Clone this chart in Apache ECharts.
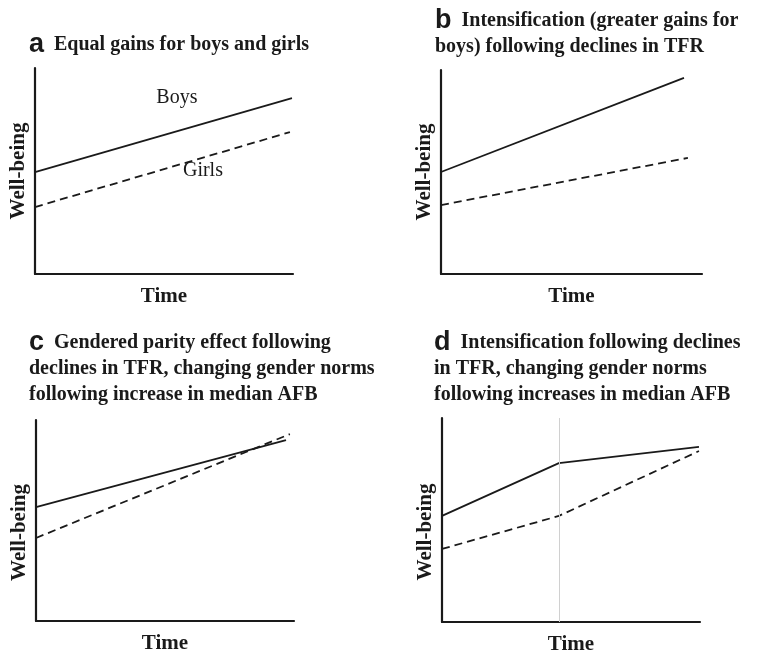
<!DOCTYPE html>
<html>
<head>
<meta charset="UTF-8">
<title>Well-being over time</title>
<script src="https://cdn.jsdelivr.net/npm/echarts@6/dist/echarts.min.js"></script>
<style>
  html, body, #chart { margin: 0; padding: 0; width: 766px; height: 651px; background: #fff; }
</style>
</head>
<body>
<div id="chart"></div>
<script>
// panel a: equal gains
const timeBoysA = [0, 9.96];
const boysA = [4.95, 8.54];
const timeGirlsA = [0, 9.88];
const girlsA = [3.25, 6.89];

// panel b: intensification
const timeBoysB = [0, 9.31];
const boysB = [5.0, 9.61];
const timeGirlsB = [0, 9.46];
const girlsB = [3.38, 5.69];

// panel c: gendered parity effect
const timeBoysC = [0, 9.69];
const boysC = [5.67, 9.0];
const timeGirlsC = [0, 9.84];
const girlsC = [4.13, 9.3];

// panel d: intensification then changing norms
const timeD = [0, 4.53, 9.96];
const boysD = [5.2, 7.79, 8.58];
const girlsD = [3.58, 5.2, 8.38];
const breakD = 4.53;

const titles = [
  '{l|a}{t|Equal gains for boys and girls}',
  '{l|b}{t|Intensification (greater gains for}\n{t|boys) following declines in TFR}',
  '{l|c}{t|Gendered parity effect following}\n{t|declines in TFR, changing gender norms}\n{t|following increase in median AFB}',
  '{l|d}{t|Intensification following declines}\n{t|in TFR, changing gender norms}\n{t|following increases in median AFB}'
];

function pairs(xs, ys) {
  return xs.map(function (x, i) { return [x, ys[i]]; });
}

var chart = echarts.init(document.getElementById('chart'));
var serif = '"Liberation Serif", "DejaVu Serif", serif';
var ink = '#1a1a1a';

var grids = [
  { left: 35, top: 68, width: 258, height: 206 },
  { left: 441, top: 70, width: 261, height: 204 },
  { left: 36, top: 420, width: 258, height: 201 },
  { left: 442, top: 418, width: 258, height: 204 }
];
grids.forEach(function (g) { g.containLabel = false; g.outerBoundsMode = 'none'; });

var titlePos = [
  { left: 29, top: 32 },
  { left: 435, top: 8 },
  { left: 29, top: 330 },
  { left: 434, top: 330 }
];

var axisLine = { show: true, symbol: 'none', lineStyle: { color: ink, width: 2.2 } };
var xAxes = [], yAxes = [];
for (let i = 0; i < 4; i++) {
  xAxes.push({
    type: 'value', gridIndex: i, min: 0, max: 10,
    axisLine: axisLine, axisTick: { show: false }, axisLabel: { show: false },
    splitLine: { show: false },
    name: 'Time', nameLocation: 'middle', nameGap: 12,
    nameTextStyle: { fontFamily: serif, fontWeight: 'bold', fontSize: 21, color: ink }
  });
  yAxes.push({
    type: 'value', gridIndex: i, min: 0, max: 10,
    axisLine: axisLine, axisTick: { show: false }, axisLabel: { show: false },
    splitLine: { show: false },
    name: 'Well-being', nameLocation: 'middle', nameGap: 6,
    nameTextStyle: {
      fontFamily: serif, fontWeight: 'bold', fontSize: 21, color: ink,
      padding: i >= 2 ? [0, 24, 0, 0] : [0, 0, 0, 0]
    }
  });
}

function lineSeries(idx, data, dashed, extra) {
  var s = {
    type: 'line', xAxisIndex: idx, yAxisIndex: idx, data: data,
    symbol: 'none', silent: true, animation: false,
    lineStyle: { color: ink, width: 1.8, type: dashed ? [8, 5] : 'solid' }
  };
  return Object.assign(s, extra || {});
}

var option = {
  backgroundColor: '#fff',
  animation: false,
  title: titles.map(function (t, i) {
    return {
      text: t, left: titlePos[i].left, top: titlePos[i].top, padding: 0,
      textStyle: {
        color: ink, lineHeight: 26,
        rich: {
          l: { fontFamily: '"Liberation Sans", Arial, sans-serif', fontWeight: 'bold', fontSize: 27, color: ink, padding: [0, 10, 0, 0], lineHeight: 26 },
          t: { fontFamily: serif, fontWeight: 'bold', fontSize: 20, color: ink, lineHeight: 26 }
        }
      }
    };
  }),
  grid: grids,
  xAxis: xAxes,
  yAxis: yAxes,
  series: [
    lineSeries(0, pairs(timeBoysA, boysA), false, {
      markPoint: {
        symbol: 'circle', symbolSize: 0, silent: true,
        label: { show: true, position: 'inside', fontFamily: serif, fontSize: 20, color: ink },
        data: [
          { coord: [5.5, 8.54], label: { formatter: 'Boys' } },
          { coord: [6.51, 5.0], label: { formatter: 'Girls' } }
        ]
      }
    }),
    lineSeries(0, pairs(timeGirlsA, girlsA), true),
    lineSeries(1, pairs(timeBoysB, boysB), false),
    lineSeries(1, pairs(timeGirlsB, girlsB), true),
    lineSeries(2, pairs(timeBoysC, boysC), false),
    lineSeries(2, pairs(timeGirlsC, girlsC), true),
    lineSeries(3, pairs(timeD, boysD), false, {
      z: 3,
      markLine: {
        silent: true, symbol: 'none', label: { show: false },
        lineStyle: { color: '#d0d0d0', width: 1, type: 'solid' },
        data: [{ xAxis: breakD }]
      }
    }),
    lineSeries(3, pairs(timeD, girlsD), true)
  ]
};
chart.setOption(option);
</script>
</body>
</html>
